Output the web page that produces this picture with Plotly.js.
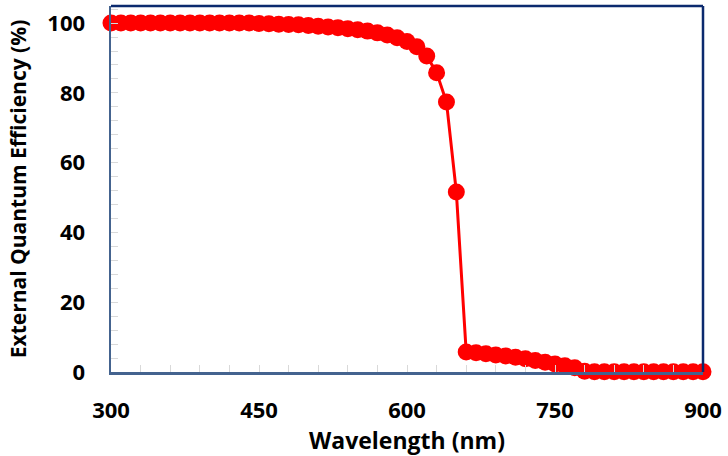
<!DOCTYPE html>
<html>
<head>
<meta charset="utf-8">
<script src="https://cdn.plot.ly/plotly-3.0.1.min.js"></script>
<style>html,body{margin:0;padding:0;background:#fff;}#chart{width:728px;height:456px;}</style>
</head>
<body>
<div id="chart"></div>
<script>
const wavelength = [300,310,320,330,340,350,360,370,380,390,400,410,420,430,440,450,460,470,480,490,500,510,520,530,540,550,560,570,580,590,600,610,620,630,640,650,660,670,680,690,700,710,720,730,740,750,760,770,780,790,800,810,820,830,840,850,860,870,880,890,900];
const eqe = [100,100,100,100,100,100,100,100,100,100,100,100,100,100,100,99.9,99.8,99.7,99.6,99.5,99.3,99.1,98.9,98.7,98.4,98.1,97.7,97.2,96.6,95.8,94.7,93.2,90.6,85.8,77.4,51.6,5.7,5.5,5.2,4.9,4.6,4.2,3.8,3.3,2.8,2.3,1.8,1.2,0.2,0.1,0.1,0.1,0.1,0.1,0.1,0.1,0.1,0.1,0.1,0.1,0.1];
const xTicks = [300,450,600,750,900];
const yTicks = [0,20,40,60,80,100];

const font = "'Open Sans', 'Noto Sans', sans-serif";
const trace = {
  x: wavelength, y: eqe, type: 'scatter', mode: 'lines+markers',
  line: {color: '#ff0000', width: 3},
  marker: {color: '#ff0000', size: 17},
  cliponaxis: false, hoverinfo: 'skip'
};
const layout = {
  width: 728, height: 456,
  margin: {l: 111, r: 25, t: 6, b: 84},
  paper_bgcolor: '#fff', plot_bgcolor: '#fff',
  showlegend: false,
  font: {family: font, color: '#000'},
  xaxis: {
    range: [300, 900], tickvals: xTicks, ticktext: xTicks.map(String),
    showgrid: false, zeroline: false,
    showline: true, linecolor: '#44638f', linewidth: 2.5,
    ticks: 'inside', ticklen: 7, tickcolor: '#d9d9d9', tickwidth: 1,
    minor: {dtick: 30, tick0: 300, ticks: 'inside', ticklen: 7, tickcolor: '#d9d9d9', tickwidth: 1},
    tickfont: {family: font, size: 22, color: '#000', weight: 'bold'},
    ticklabelstandoff: 17,
    title: {text: '<b>Wavelength (nm)</b>', font: {family: font, size: 23, color: '#000'}, standoff: 8}
  },
  yaxis: {
    range: [0, 104.9], tickvals: yTicks, ticktext: yTicks.map(String),
    showgrid: false, zeroline: false,
    showline: true, linecolor: '#44638f', linewidth: 2.5,
    ticks: 'inside', ticklen: 7, tickcolor: '#d9d9d9', tickwidth: 1,
    minor: {dtick: 4, tick0: 0, ticks: 'inside', ticklen: 7, tickcolor: '#d9d9d9', tickwidth: 1},
    tickfont: {family: font, size: 22, color: '#000', weight: 'bold'},
    ticklabelstandoff: 19,
    title: {text: '<b>External Quantum Efficiency (%)</b>', font: {family: font, size: 21, color: '#000'}, standoff: 15}
  },
  shapes: [
    {type: 'line', xref: 'paper', yref: 'paper', x0: 0, x1: 1, y0: 1, y1: 1, line: {color: '#0b2a6e', width: 2.5}},
    {type: 'line', xref: 'paper', yref: 'paper', x0: 1, x1: 1, y0: 0, y1: 1, line: {color: '#0b2a6e', width: 2.5}}
  ]
};
Plotly.newPlot('chart', [trace], layout, {staticPlot: true, displayModeBar: false});
</script>
</body>
</html>
